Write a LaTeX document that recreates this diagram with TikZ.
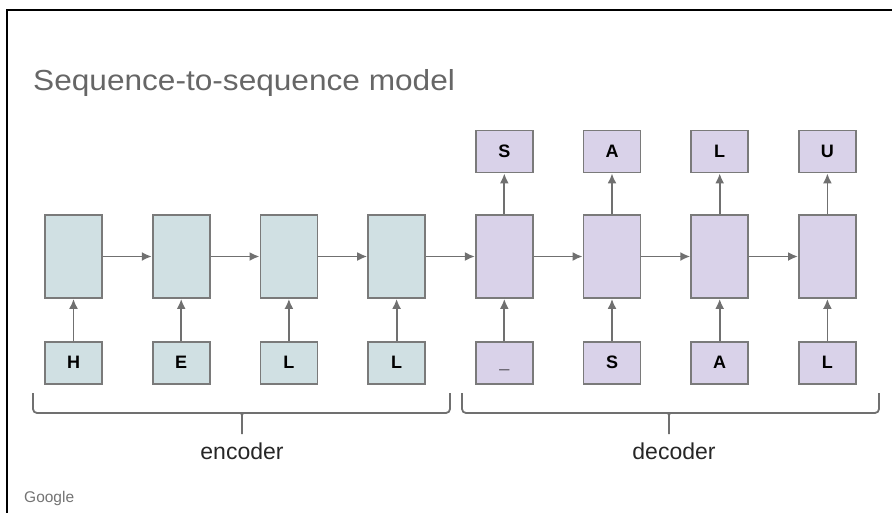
\documentclass[tikz,border=0pt]{standalone}
\usepackage{fontspec}
\setmainfont{Liberation Sans}
\usetikzlibrary{arrows.meta}
\definecolor{encfill}{HTML}{D0E0E3}
\definecolor{decfill}{HTML}{D9D2E9}
\definecolor{boxline}{HTML}{7A7A7A}
\definecolor{arrowcol}{HTML}{707070}
\definecolor{titlecol}{HTML}{666666}
\begin{document}
\begin{tikzpicture}[x=1pt,y=-1pt,
  cell/.style={draw=boxline,line width=1.8pt,minimum width=57pt,minimum height=83pt,inner sep=0pt},
  tok/.style={draw=boxline,line width=1.8pt,minimum width=57pt,minimum height=42pt,inner sep=0pt,text height=12pt,text depth=1pt,font=\fontsize{18}{21}\selectfont\bfseries},
  enc/.style={fill=encfill},
  dec/.style={fill=decfill},
  conn/.style={draw=arrowcol,line width=1.8pt,-{Latex[length=10pt,width=9pt]}},
  brace/.style={draw=arrowcol,line width=1.8pt,rounded corners=4pt},
  lbl/.style={font=\fontsize{23}{26}\selectfont,text=black!85,inner sep=0pt}]
\useasboundingbox (0,0) rectangle (892,512);
% frame
\draw[line width=2.5pt] (7,513) -- (7,10) -- (893,10);
% title
\node[anchor=base west,inner sep=0pt,text=titlecol,font=\fontsize{29}{32}\selectfont] (title) at (33,90) {\scalebox{1.09}[1]{Sequence-to-sequence model}};
% encoder
\foreach \i/\t in {0/H,1/E,2/L,3/L}{
  \node[cell,enc] (c\i) at ({73.5+107.7*\i},256.5) {};
  \node[tok,enc] (in\i) at ({73.5+107.7*\i},363) {\t};
}
\foreach \i/\t/\o in {4/{\char`\_}/S,5/S/A,6/A/L,7/L/U}{
  \node[cell,dec] (c\i) at ({73.5+107.7*\i},256.5) {};
  \node[tok,dec] (in\i) at ({73.5+107.7*\i},363) {\t};
  \node[tok,dec] (out\i) at ({73.5+107.7*\i},151.5) {\o};
  \draw[conn] (c\i.north) -- (out\i.south);
}
\foreach \i in {0,...,7}{ \draw[conn] (in\i.north) -- (c\i.south); }
\foreach \i [evaluate=\i as \j using int(\i+1)] in {0,...,6}{ \draw[conn] (c\i.east) -- (c\j.west); }
% braces
\draw[brace] (33,393) -- (33,413) -- (242,413);
\draw[brace] (450,393) -- (450,413) -- (242,413);
\draw[arrowcol,line width=1.8pt] (238,413) .. controls (242,413) .. (242,418) -- (242,434);
\draw[arrowcol,line width=1.8pt] (246,413) .. controls (242,413) .. (242,418);
\node[lbl,anchor=base] (enc) at (242,459) {encoder};
\draw[brace] (462,393) -- (462,413) -- (669,413);
\draw[brace] (879,393) -- (879,413) -- (669,413);
\draw[arrowcol,line width=1.8pt] (665,413) .. controls (669,413) .. (669,418) -- (669,434);
\draw[arrowcol,line width=1.8pt] (673,413) .. controls (669,413) .. (669,418);
\node[lbl,anchor=base] (decl) at (674,459) {decoder};
% footer
\node[anchor=base west,inner sep=0pt,text=black!55,font=\fontsize{15.5}{18}\selectfont] (google) at (24,502) {Google};
\end{tikzpicture}
\end{document}
